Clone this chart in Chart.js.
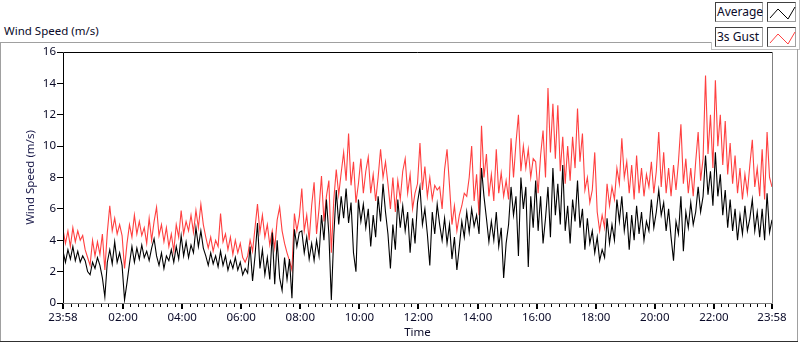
<!DOCTYPE html>
<html>
<head>
<meta charset="utf-8">
<title>Wind Speed (m/s)</title>
<script src="https://cdn.jsdelivr.net/npm/chart.js@4/dist/chart.umd.min.js"></script>
<style>
  html, body { margin: 0; padding: 0; background: #fff; }
  body { width: 800px; height: 342px; position: relative; overflow: hidden; font-family: "Noto Sans", sans-serif; font-size: 12px; color: #0a0a28; }
  .line { position: absolute; }
  #graph-title { position: absolute; left: 4px; top: 23px; line-height: 16px; font-size: 11.5px; }
  .legend-name, .legend-icon { position: absolute; box-sizing: border-box; height: 20px; background: #fff;
    border: 1px solid; border-color: #404040 #a0a0a0 #a0a0a0 #404040; }
  .legend-name { left: 715px; width: 48px; padding-left: 1px; line-height: 18px; }
  .legend-icon { left: 767px; width: 29px; }
  .legend-icon svg { position: absolute; left: 0; top: 0; }
  #wrap { position: absolute; left: 0; top: 0; width: 800px; height: 342px; }
</style>
</head>
<body>
<!-- outer frame -->
<div class="line" style="left:0;top:42px;width:711px;height:1px;background:#a0a0a0"></div>
<div class="line" style="left:711px;top:42px;width:1px;height:8px;background:#c0c0c0"></div>
<div class="line" style="left:711px;top:49px;width:88px;height:1px;background:#c0c0c0"></div>
<div class="line" style="left:799px;top:0;width:1px;height:50px;background:#c0c0c0"></div>
<div class="line" style="left:0;top:42px;width:1px;height:300px;background:#a0a0a0"></div>
<div class="line" style="left:797px;top:49px;width:1px;height:292px;background:#a0a0a0"></div>
<div class="line" style="left:0;top:341px;width:798px;height:1px;background:#303030"></div>

<div id="graph-title">Wind Speed (m/s)</div>

<div class="legend-name" style="top:2px">Average</div>
<div class="legend-icon" style="top:2px"><svg width="29" height="20"><polyline points="2,15 10,6 20,16 27,4" fill="none" stroke="#000" stroke-width="1"/></svg></div>
<div class="legend-name" style="top:27px">3s Gust</div>
<div class="legend-icon" style="top:27px"><svg width="29" height="20"><polyline points="2,15 10,6 20,16 27,4" fill="none" stroke="#ff4040" stroke-width="1"/></svg></div>

<div id="wrap"><canvas id="chart" width="800" height="342"></canvas></div>

<script>
// ── Data ─────────────────────────────────────────────────────────────────────
// one sample every 5 minutes, starting at 23:58
const SAMPLE_STEP_MIN = 5;

// Average (m/s)
const AVG_00_08 = [
  3.3,2.6,3.4,2.8,3.6,2.7,3.3,2.6,3.0,2.7,
  2.0,1.8,2.6,2.2,2.9,2.4,1.6,0.4,2.6,3.4,
  2.5,3.9,2.6,3.2,2.4,0.2,1.3,2.5,3.6,2.6,
  3.5,2.8,3.7,2.9,3.3,2.7,3.5,4.1,3.0,2.4,
  3.2,2.2,3.0,2.7,3.4,2.6,3.6,2.8,4.3,3.0,
  3.9,2.9,3.7,3.2,4.8,3.6,4.6,3.5,3.0,2.4,
  3.2,2.5,3.0,2.3,3.3,2.4,3.0,2.1,2.7,2.2,
  2.9,2.1,2.6,1.8,2.2,1.9,3.6,1.4,3.0,5.1,
  2.2,3.4,1.8,2.9,1.5,4.5,1.2,4.0,1.6,0.8,
  2.9,1.5,2.8,0.3,4.7,3.6,4.5,
];
const AVG_08_16 = [
  4.6,3.2,4.2,2.8,3.8,2.7,4.0,3.0,5.6,4.0,
  6.6,4.4,0.2,4.3,7.2,5.0,6.8,5.4,7.3,5.1,
  6.4,3.2,2.0,6.6,5.2,6.3,4.8,6.0,3.6,5.6,
  4.2,6.8,5.2,7.6,5.8,4.4,2.2,5.0,3.4,6.6,
  4.8,6.2,4.6,5.8,3.2,5.4,3.8,6.4,7.4,5.0,
  6.0,4.4,2.4,5.8,4.4,6.3,5.0,4.0,5.4,3.8,
  5.0,2.8,4.2,2.1,3.6,5.2,4.2,5.8,4.5,6.0,
  4.9,5.6,4.4,8.6,6.8,5.4,3.9,5.2,4.0,5.8,
  3.6,4.8,1.6,3.8,5.0,7.4,5.6,6.8,3.0,8.0,
  6.0,7.4,2.3,6.8,4.8,7.8,
];
const AVG_16_24 = [
  4.6,6.8,3.8,5.4,7.4,4.2,8.6,5.6,7.6,5.0,
  8.8,4.6,6.2,3.8,6.6,5.2,7.8,4.8,6.0,3.4,
  5.4,3.8,4.6,3.2,4.2,2.7,3.4,2.9,5.4,3.8,
  5.0,4.0,6.6,5.2,6.8,4.6,5.8,3.4,5.6,4.0,
  6.2,4.4,5.8,4.0,5.2,4.6,6.6,4.8,5.8,7.2,
  5.6,6.4,4.6,6.0,4.2,2.7,5.2,4.4,6.8,3.3,
  5.8,4.8,6.4,5.0,5.8,7.4,5.8,6.8,9.4,6.9,
  8.4,6.2,9.6,6.8,8.2,5.6,7.2,4.8,6.6,4.6,
  6.0,4.0,5.6,4.4,6.2,4.6,5.4,6.6,4.6,5.8,
  4.2,6.0,4.0,7.0,4.5,5.3,
];

// 3s Gust (m/s)
const GUST_00_08 = [
  4.7,3.8,4.6,3.6,4.8,3.9,4.6,4.0,4.3,3.4,
  2.9,2.4,4.0,3.0,3.9,3.1,4.4,2.1,4.5,6.2,
  4.6,5.4,4.4,5.0,4.3,2.2,3.8,5.0,4.2,5.6,
  4.4,5.2,4.3,4.8,3.8,5.4,4.0,5.2,6.1,4.3,
  5.0,3.9,4.8,3.6,4.4,3.3,5.0,4.2,5.9,4.4,
  5.2,4.6,5.6,4.5,5.9,4.8,6.3,5.0,4.2,3.5,
  4.2,3.3,4.0,3.6,5.7,3.9,4.4,3.4,4.2,3.1,
  4.0,3.2,3.8,2.9,2.6,3.0,4.0,3.3,4.8,6.3,
  4.5,5.6,4.2,5.0,3.7,4.6,3.5,5.3,6.1,4.6,
  3.8,3.2,2.7,2.1,5.7,4.6,5.5,
];
const GUST_08_16 = [
  7.3,4.6,5.6,4.0,6.2,7.7,4.4,6.0,8.1,5.2,
  6.8,7.8,3.2,6.6,8.5,6.9,8.3,9.6,7.8,10.8,
  7.5,9.0,6.4,7.6,9.2,7.0,8.4,9.3,7.0,8.2,
  6.5,8.0,9.8,8.0,9.0,7.6,6.0,8.0,5.8,7.8,
  6.6,8.4,9.2,7.0,8.2,6.0,7.0,7.6,10.2,7.2,
  8.7,6.8,8.0,6.6,7.5,7.2,7.4,6.0,8.5,9.8,
  7.5,5.0,6.2,4.6,5.6,6.2,7.0,6.8,8.0,10.0,
  6.5,8.2,5.6,11.3,8.0,9.5,6.8,8.2,6.5,9.8,
  7.0,8.3,6.8,7.8,6.6,10.5,8.0,10.2,12.0,8.4,
  10.0,8.6,9.8,8.0,9.2,9.0,
];
const GUST_16_24 = [
  7.0,9.4,11.0,8.0,13.7,9.6,12.7,9.2,12.6,8.4,
  10.6,7.6,10.0,7.8,10.6,8.6,12.4,9.0,10.8,7.2,
  8.0,6.4,7.2,9.6,5.8,4.6,5.6,4.8,7.6,6.2,
  7.4,6.6,8.6,7.6,10.5,8.0,9.0,7.0,8.8,6.6,
  9.4,7.0,8.6,6.8,8.2,7.4,9.0,7.0,8.4,10.9,
  7.4,9.6,7.0,8.6,6.8,8.8,7.2,9.0,11.4,7.6,
  9.2,7.0,8.6,6.8,9.0,10.9,7.8,9.2,14.5,9.5,
  12.0,8.6,14.2,10.0,12.0,8.8,11.6,8.2,10.2,7.6,
  9.4,7.0,8.6,6.6,8.2,7.0,8.8,10.4,7.4,8.6,
  6.8,9.8,6.6,10.9,8.0,7.4,
];

const AVERAGE = [...AVG_00_08, ...AVG_08_16, ...AVG_16_24];
const GUST = [...GUST_00_08, ...GUST_08_16, ...GUST_16_24];

// ── Axes ─────────────────────────────────────────────────────────────────────
const TIME_TICKS = [0, 122, 242, 362, 482, 602, 722, 842, 962, 1082, 1202, 1322, 1440];
const TIME_LABELS = ["23:58", "02:00", "04:00", "06:00", "08:00", "10:00", "12:00",
  "14:00", "16:00", "18:00", "20:00", "22:00", "23:58"];
const Y_TICKS = [0, 2, 4, 6, 8, 10, 12, 14, 16];
const MINOR_DIVISIONS = 8;

const FONT = { family: "'Noto Sans', sans-serif", size: 11.5 };
const TEXT = "#0a0a28";

function toPoints(values) {
  return values.map((v, i) => ({ x: i * SAMPLE_STEP_MIN, y: v }));
}

// ── Frame + time ticks ───────────────────────────────────────────────────────
const plotFrame = {
  id: "plotFrame",
  afterDraw(chart) {
    const { ctx, chartArea: a, scales: { x } } = chart;
    const L = Math.round(a.left), R = Math.round(a.right), T = Math.round(a.top), B = Math.round(a.bottom);
    ctx.save();
    ctx.lineWidth = 1;
    ctx.strokeStyle = "#000";
    ctx.beginPath();
    ctx.moveTo(L + 0.5, B); ctx.lineTo(L + 0.5, T + 0.5); ctx.lineTo(R, T + 0.5);
    ctx.stroke();
    ctx.strokeStyle = "#808080";
    ctx.beginPath();
    ctx.moveTo(R + 0.5, T); ctx.lineTo(R + 0.5, B + 0.5); ctx.lineTo(L, B + 0.5);
    ctx.stroke();

    ctx.fillStyle = "#000";
    for (let k = 0; k < TIME_TICKS.length; k++) {
      const px = Math.round(x.getPixelForValue(TIME_TICKS[k]));
      ctx.fillRect(px - 1, B + 1, 2, 5);
      if (k === TIME_TICKS.length - 1) break;
      const step = (TIME_TICKS[k + 1] - TIME_TICKS[k]) / MINOR_DIVISIONS;
      for (let m = 1; m < MINOR_DIVISIONS; m++) {
        const mx = Math.round(x.getPixelForValue(TIME_TICKS[k] + m * step));
        ctx.fillRect(mx, B + 1, 1, 3);
      }
    }
    ctx.restore();
  },
};

// ── Chart ────────────────────────────────────────────────────────────────────
new Chart(document.getElementById("chart"), {
  type: "line",
  data: {
    datasets: [
      { label: "Average", data: toPoints(AVERAGE), borderColor: "#000000", borderWidth: 1.1, pointRadius: 0, tension: 0 },
      { label: "3s Gust", data: toPoints(GUST), borderColor: "#ff4040", borderWidth: 1.1, pointRadius: 0, tension: 0 },
    ],
  },
  options: {
    responsive: false,
    animation: false,
    events: [],
    layout: { padding: { left: 20, right: 28, top: 52, bottom: 2 } },
    plugins: { legend: { display: false }, tooltip: { enabled: false } },
    scales: {
      x: {
        type: "linear",
        min: 0,
        max: 1440,
        afterBuildTicks: (s) => { s.ticks = TIME_TICKS.map((v) => ({ value: v })); },
        afterFit: (s) => { s.height = 37; },
        ticks: { autoSkip: false, maxRotation: 0, padding: 3, font: FONT, color: TEXT,
          callback: (v, i) => TIME_LABELS[i] },
        grid: { display: true, drawOnChartArea: false, tickLength: 5, color: "rgba(0,0,0,0)" },
        border: { display: false },
        title: { display: true, text: "Time", padding: 0, font: FONT, color: TEXT },
      },
      y: {
        min: 0,
        max: 16,
        afterBuildTicks: (s) => { s.ticks = Y_TICKS.map((v) => ({ value: v })); },
        afterFit: (s) => { s.width = 43; },
        ticks: { padding: 1, font: FONT, color: TEXT },
        grid: { drawOnChartArea: false, tickLength: 6, color: "#000" },
        border: { display: false },
        title: { display: true, text: "Wind Speed (m/s)", font: FONT, color: "#1a1a4a" },
      },
    },
  },
  plugins: [plotFrame],
});
</script>
</body>
</html>
